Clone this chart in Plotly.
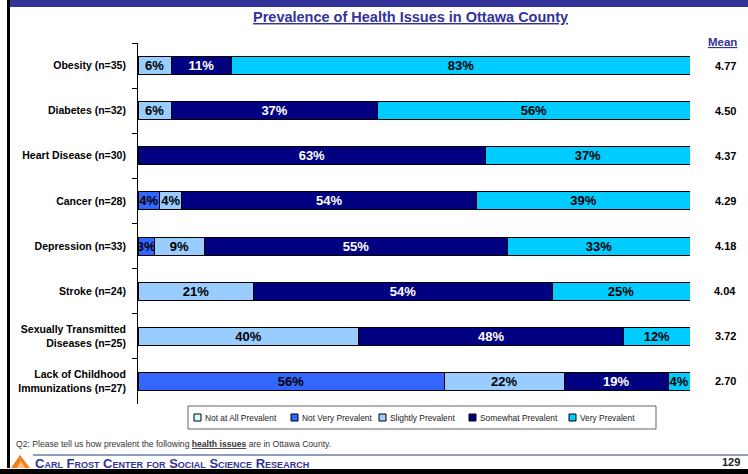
import plotly.graph_objects as go

# Survey results: share of respondents (%) per rating, by health issue
issues = [
    "Obesity (n=35)",
    "Diabetes (n=32)",
    "Heart Disease (n=30)",
    "Cancer (n=28)",
    "Depression (n=33)",
    "Stroke (n=24)",
    "Sexually Transmitted<br>Diseases (n=25)",
    "Lack of Childhood<br>Immunizations (n=27)",
]
not_at_all = [0, 0, 0, 0, 0, 0, 0, 0]
not_very = [0, 0, 0, 4, 3, 0, 0, 56]
slightly = [6, 6, 0, 4, 9, 21, 40, 22]
somewhat = [11, 37, 63, 54, 55, 54, 48, 19]
very = [83, 56, 37, 39, 33, 25, 12, 4]
means = ["4.77", "4.50", "4.37", "4.29", "4.18", "4.04", "3.72", "2.70"]

series = [
    ("Not at All Prevalent", not_at_all, "#CCFFFF", "black"),
    ("Not Very Prevalent", not_very, "#3366FF", "black"),
    ("Slightly Prevalent", slightly, "#99CCFF", "black"),
    ("Somewhat Prevalent", somewhat, "#000080", "white"),
    ("Very Prevalent", very, "#00CCFF", "black"),
]

W, H = 748, 474
L, R, T, B = 138, 690, 43, 404
FONT = "Arial, Liberation Sans, sans-serif"
NAVY = "#333399"


def px(x):
    return (x - L) / (R - L)


def py(y):
    return (B - y) / (B - T)


fig = go.Figure()
for name, vals, color, tcolor in series:
    fig.add_trace(go.Bar(
        y=issues, x=vals, name=name, orientation="h",
        marker=dict(color=color, line=dict(color="black", width=1)),
        text=[f"{v}%" if v else "" for v in vals],
        textposition="inside", insidetextanchor="middle",
        constraintext="none", textangle=0,
        textfont=dict(family=FONT, size=13, color=tcolor, weight="bold"),
        hoverinfo="skip", showlegend=False,
    ))

annotations = [
    dict(text="<u>Prevalence of Health Issues in Ottawa County</u>",
         x=px(410), y=py(17), xref="paper", yref="paper",
         showarrow=False, xanchor="center", yanchor="middle",
         font=dict(family=FONT, size=14.5, color=NAVY, weight="bold")),
    dict(text="<u>Mean</u>", x=px(739), y=py(42), xref="paper", yref="paper",
         showarrow=False, xanchor="right", yanchor="middle",
         font=dict(family=FONT, size=11.5, color=NAVY, weight="bold")),
    dict(text="Q2: Please tell us how prevalent the following "
              "<b><u>health issues</u></b> are in Ottawa County.",
         x=px(14), y=py(444), xref="paper", yref="paper",
         showarrow=False, xanchor="left", yanchor="middle",
         font=dict(family=FONT, size=8.6, color="#333333")),
    dict(text="Carl Frost Center for Social Science Research",
         x=px(33), y=py(463), xref="paper", yref="paper",
         showarrow=False, xanchor="left", yanchor="middle",
         font=dict(family=FONT, size=13, color=NAVY, weight="bold",
                   variant="small-caps")),
    dict(text="129", x=px(742), y=py(462), xref="paper", yref="paper",
         showarrow=False, xanchor="right", yanchor="middle",
         font=dict(family=FONT, size=11, color="#222222", weight="bold")),
]
for issue, m in zip(issues, means):
    annotations.append(dict(
        text=m, x=px(738), y=issue, xref="paper", yref="y",
        showarrow=False, xanchor="right", yanchor="middle",
        font=dict(family=FONT, size=11, color="black", weight="bold")))

shapes = [
    # top band
    dict(type="rect", xref="paper", yref="paper", x0=px(10), x1=px(748),
         y0=py(7), y1=py(0), fillcolor="#333399", line=dict(width=0), layer="below"),
    # left frame line
    dict(type="rect", xref="paper", yref="paper", x0=px(7), x1=px(10),
         y0=py(468), y1=py(0), fillcolor="black", line=dict(width=0), layer="below"),
    # bottom frame band
    dict(type="rect", xref="paper", yref="paper", x0=px(0), x1=px(748),
         y0=py(474), y1=py(469), fillcolor="black", line=dict(width=0), layer="below"),
    # footer rule
    dict(type="line", xref="paper", yref="paper", x0=px(33), x1=px(748),
         y0=py(455), y1=py(455), line=dict(color="#1F3F6F", width=1)),
    # logo triangle
    dict(type="path", xref="paper", yref="paper",
         path=f"M {px(11)} {py(468)} L {px(20)} {py(455)} L {px(30)} {py(468)} Z",
         fillcolor="#F08020", line=dict(width=0)),
    dict(type="path", xref="paper", yref="paper",
         path=f"M {px(17)} {py(468)} L {px(21)} {py(461)} L {px(25)} {py(468)} Z",
         fillcolor="#FBC080", line=dict(width=0)),
    # legend frame
    dict(type="rect", xref="paper", yref="paper", x0=px(188), x1=px(656),
         y0=py(429), y1=py(406), fillcolor="white",
         line=dict(color="#666666", width=1)),
]

# legend entries: swatch + label
legend_x = [194, 291, 379, 469, 569]
ly = 417.5
for (name, _, color, _), lx in zip(series, legend_x):
    shapes.append(dict(type="rect", xref="paper", yref="paper",
                       x0=px(lx), x1=px(lx + 7), y0=py(ly + 3.5), y1=py(ly - 3.5),
                       fillcolor=color, line=dict(color="black", width=1)))
    annotations.append(dict(text=name, x=px(lx + 9), y=py(ly),
                            xref="paper", yref="paper", showarrow=False,
                            xanchor="left", yanchor="middle",
                            font=dict(family=FONT, size=8.4, color="#222222")))

fig.update_layout(
    width=W, height=H,
    margin=dict(l=L, r=W - R, t=T, b=H - B, pad=0),
    barmode="stack", barnorm="percent", bargap=0.6,
    plot_bgcolor="white", paper_bgcolor="white",
    showlegend=False,
    xaxis=dict(range=[0, 100], visible=False, fixedrange=True),
    yaxis=dict(autorange="reversed", showline=True, linecolor="black",
               linewidth=1, ticks="outside", ticklen=5, tickcolor="black",
               tickson="boundaries", ticklabelstandoff=9,
               tickfont=dict(family=FONT, size=10.5, color="black", weight="bold"),
               showgrid=False, zeroline=False, fixedrange=True),
    annotations=annotations,
    shapes=shapes,
    font=dict(family=FONT),
)

fig.write_html("out.html")
